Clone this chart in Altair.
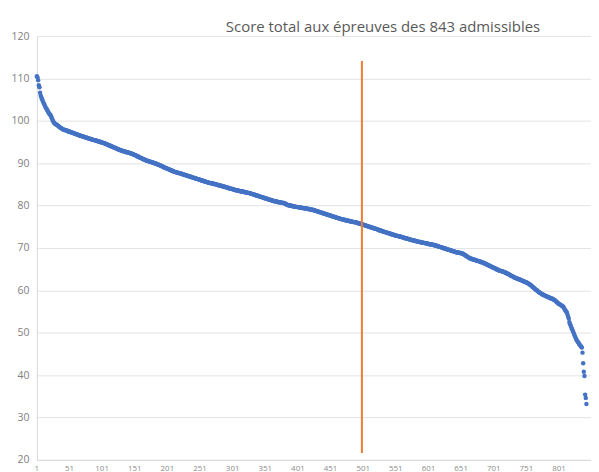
import altair as alt
import pandas as pd

# Scores of the 843 candidates, sorted in decreasing order
scores_1_200 = [
    110.5, 110.2, 109.6, 108.4, 107.9, 106.6, 105.9, 105.5, 105.1, 104.7,
    104.3, 104.0, 103.7, 103.3, 103.0, 102.8, 102.5, 102.2, 101.9, 101.7,
    101.5, 101.3, 101.0, 100.6, 100.2, 99.9, 99.6, 99.4, 99.3, 99.2,
    99.1, 99.0, 98.9, 98.8, 98.6, 98.5, 98.4, 98.3, 98.2, 98.1,
    98.0, 97.9, 97.9, 97.8, 97.8, 97.7, 97.7, 97.6, 97.5, 97.5,
    97.4, 97.4, 97.3, 97.3, 97.2, 97.2, 97.1, 97.0, 97.0, 96.9,
    96.9, 96.8, 96.8, 96.7, 96.6, 96.6, 96.5, 96.5, 96.4, 96.4,
    96.3, 96.3, 96.2, 96.2, 96.1, 96.1, 96.0, 96.0, 95.9, 95.9,
    95.8, 95.8, 95.7, 95.7, 95.6, 95.6, 95.5, 95.5, 95.4, 95.4,
    95.4, 95.3, 95.3, 95.2, 95.2, 95.1, 95.1, 95.0, 95.0, 94.9,
    94.9, 94.8, 94.8, 94.7, 94.7, 94.6, 94.5, 94.5, 94.4, 94.3,
    94.3, 94.2, 94.1, 94.1, 94.0, 93.9, 93.9, 93.8, 93.7, 93.7,
    93.6, 93.5, 93.5, 93.4, 93.3, 93.3, 93.2, 93.1, 93.1, 93.0,
    93.0, 92.9, 92.9, 92.8, 92.8, 92.7, 92.7, 92.6, 92.6, 92.6,
    92.5, 92.5, 92.4, 92.4, 92.3, 92.3, 92.2, 92.1, 92.1, 92.0,
    91.9, 91.9, 91.8, 91.7, 91.6, 91.6, 91.5, 91.4, 91.3, 91.3,
    91.2, 91.1, 91.0, 91.0, 90.9, 90.8, 90.8, 90.7, 90.6, 90.6,
    90.5, 90.5, 90.4, 90.4, 90.3, 90.3, 90.2, 90.2, 90.1, 90.1,
    90.0, 90.0, 89.9, 89.9, 89.8, 89.7, 89.7, 89.6, 89.5, 89.5,
    89.4, 89.3, 89.3, 89.2, 89.1, 89.0, 89.0, 88.9, 88.8, 88.8,
]
scores_201_400 = [
    88.7, 88.6, 88.6, 88.5, 88.4, 88.4, 88.3, 88.2, 88.2, 88.1,
    88.0, 88.0, 87.9, 87.9, 87.8, 87.8, 87.7, 87.7, 87.7, 87.6,
    87.6, 87.5, 87.5, 87.4, 87.4, 87.3, 87.3, 87.2, 87.2, 87.1,
    87.1, 87.0, 87.0, 86.9, 86.9, 86.8, 86.8, 86.7, 86.7, 86.6,
    86.6, 86.5, 86.5, 86.4, 86.4, 86.3, 86.3, 86.2, 86.2, 86.1,
    86.1, 86.0, 86.0, 85.9, 85.9, 85.8, 85.8, 85.7, 85.7, 85.6,
    85.6, 85.5, 85.5, 85.4, 85.4, 85.3, 85.3, 85.3, 85.2, 85.2,
    85.2, 85.1, 85.1, 85.1, 85.0, 85.0, 84.9, 84.9, 84.8, 84.8,
    84.8, 84.7, 84.7, 84.6, 84.6, 84.5, 84.5, 84.5, 84.4, 84.4,
    84.3, 84.3, 84.2, 84.2, 84.1, 84.1, 84.0, 84.0, 84.0, 83.9,
    83.9, 83.8, 83.8, 83.7, 83.7, 83.6, 83.6, 83.6, 83.5, 83.5,
    83.5, 83.4, 83.4, 83.4, 83.3, 83.3, 83.3, 83.2, 83.2, 83.2,
    83.1, 83.1, 83.1, 83.0, 83.0, 83.0, 82.9, 82.9, 82.8, 82.8,
    82.7, 82.7, 82.6, 82.6, 82.5, 82.5, 82.4, 82.4, 82.3, 82.3,
    82.2, 82.2, 82.1, 82.1, 82.0, 82.0, 81.9, 81.9, 81.8, 81.8,
    81.7, 81.7, 81.6, 81.6, 81.5, 81.5, 81.4, 81.4, 81.3, 81.3,
    81.2, 81.2, 81.1, 81.1, 81.0, 81.0, 81.0, 80.9, 80.9, 80.9,
    80.8, 80.8, 80.8, 80.8, 80.7, 80.7, 80.7, 80.6, 80.6, 80.6,
    80.5, 80.4, 80.3, 80.2, 80.2, 80.1, 80.1, 80.0, 80.0, 80.0,
    79.9, 79.9, 79.9, 79.8, 79.8, 79.8, 79.7, 79.7, 79.7, 79.7,
]
scores_401_600 = [
    79.6, 79.6, 79.6, 79.6, 79.5, 79.5, 79.5, 79.4, 79.4, 79.4,
    79.4, 79.3, 79.3, 79.3, 79.3, 79.2, 79.2, 79.2, 79.1, 79.1,
    79.1, 79.0, 79.0, 79.0, 78.9, 78.9, 78.8, 78.8, 78.7, 78.7,
    78.6, 78.6, 78.5, 78.5, 78.4, 78.4, 78.3, 78.3, 78.2, 78.2,
    78.1, 78.1, 78.0, 78.0, 77.9, 77.9, 77.8, 77.8, 77.7, 77.7,
    77.6, 77.6, 77.5, 77.5, 77.4, 77.4, 77.3, 77.3, 77.2, 77.2,
    77.1, 77.1, 77.0, 77.0, 76.9, 76.9, 76.8, 76.8, 76.8, 76.7,
    76.7, 76.6, 76.6, 76.6, 76.5, 76.5, 76.4, 76.4, 76.4, 76.3,
    76.3, 76.3, 76.2, 76.2, 76.2, 76.1, 76.1, 76.1, 76.0, 76.0,
    76.0, 75.9, 75.9, 75.8, 75.8, 75.7, 75.7, 75.6, 75.6, 75.5,
    75.5, 75.4, 75.4, 75.3, 75.3, 75.2, 75.2, 75.1, 75.1, 75.0,
    75.0, 74.9, 74.9, 74.8, 74.8, 74.7, 74.7, 74.6, 74.6, 74.5,
    74.5, 74.4, 74.4, 74.3, 74.2, 74.2, 74.1, 74.1, 74.0, 74.0,
    73.9, 73.9, 73.8, 73.8, 73.7, 73.7, 73.6, 73.6, 73.5, 73.5,
    73.4, 73.4, 73.3, 73.3, 73.2, 73.2, 73.1, 73.1, 73.0, 73.0,
    72.9, 72.9, 72.9, 72.8, 72.8, 72.7, 72.7, 72.7, 72.6, 72.6,
    72.5, 72.5, 72.4, 72.4, 72.3, 72.3, 72.3, 72.2, 72.2, 72.1,
    72.1, 72.0, 72.0, 71.9, 71.9, 71.9, 71.8, 71.8, 71.7, 71.7,
    71.7, 71.6, 71.6, 71.5, 71.5, 71.5, 71.4, 71.4, 71.4, 71.3,
    71.3, 71.3, 71.2, 71.2, 71.2, 71.1, 71.1, 71.1, 71.0, 71.0,
]
scores_601_843 = [
    71.0, 70.9, 70.9, 70.9, 70.8, 70.8, 70.8, 70.7, 70.7, 70.7,
    70.6, 70.6, 70.5, 70.5, 70.4, 70.4, 70.3, 70.3, 70.2, 70.2,
    70.1, 70.1, 70.0, 70.0, 69.9, 69.9, 69.8, 69.8, 69.7, 69.7,
    69.6, 69.6, 69.5, 69.5, 69.4, 69.4, 69.3, 69.3, 69.2, 69.2,
    69.1, 69.1, 69.0, 69.0, 69.0, 68.9, 68.9, 68.9, 68.8, 68.8,
    68.8, 68.7, 68.7, 68.6, 68.5, 68.4, 68.3, 68.2, 68.1, 68.0,
    67.9, 67.8, 67.7, 67.6, 67.5, 67.5, 67.4, 67.4, 67.3, 67.3,
    67.2, 67.2, 67.1, 67.1, 67.0, 67.0, 66.9, 66.9, 66.8, 66.8,
    66.7, 66.7, 66.6, 66.6, 66.5, 66.4, 66.4, 66.3, 66.2, 66.1,
    66.1, 66.0, 65.9, 65.8, 65.8, 65.7, 65.6, 65.5, 65.5, 65.4,
    65.3, 65.2, 65.2, 65.1, 65.0, 64.9, 64.9, 64.8, 64.7, 64.7,
    64.6, 64.6, 64.5, 64.5, 64.4, 64.4, 64.3, 64.2, 64.2, 64.1,
    64.0, 63.9, 63.9, 63.8, 63.7, 63.6, 63.5, 63.4, 63.4, 63.3,
    63.2, 63.1, 63.0, 63.0, 62.9, 62.8, 62.8, 62.7, 62.6, 62.6,
    62.5, 62.5, 62.4, 62.3, 62.3, 62.2, 62.1, 62.1, 62.0, 61.9,
    61.9, 61.8, 61.7, 61.6, 61.5, 61.4, 61.3, 61.2, 61.0, 60.9,
    60.8, 60.6, 60.5, 60.4, 60.2, 60.1, 60.0, 59.9, 59.7, 59.6,
    59.5, 59.4, 59.3, 59.2, 59.1, 59.0, 58.9, 58.9, 58.8, 58.7,
    58.6, 58.6, 58.5, 58.4, 58.4, 58.3, 58.2, 58.2, 58.1, 58.0,
    58.0, 57.9, 57.8, 57.7, 57.6, 57.5, 57.3, 57.2, 57.0, 56.9,
    56.8, 56.7, 56.6, 56.5, 56.4, 56.3, 56.2, 56.0, 55.7, 55.4,
    55.2, 55.0, 54.8, 54.3, 53.8, 53.3, 52.5, 52.0, 51.6, 51.2,
    50.9, 50.5, 50.1, 49.7, 49.3, 49.0, 48.6, 48.3, 48.0, 47.8,
    47.6, 47.3, 47.1, 46.9, 46.7, 46.5,
    45.3, 42.8, 40.8, 39.8, 35.4, 34.6, 33.2,
]

x_ticks = [1, 51, 101, 151, 201, 251, 301, 351, 401, 451, 501, 551, 601, 651, 701, 751, 801]
y_ticks = [20, 30, 40, 50, 60, 70, 80, 90, 100, 110, 120]
cutoff_rank = [499]
cutoff_low = [21.6]
cutoff_high = [114.1]
title_text = "Score total aux épreuves des 843 admissibles"

scores = scores_1_200 + scores_201_400 + scores_401_600 + scores_601_843
ranks = list(range(1, len(scores) + 1))
df = pd.DataFrame({"rang": ranks, "score": scores})
cut = pd.DataFrame({"rang": cutoff_rank, "score": cutoff_low, "haut": cutoff_high})
tick_df = pd.DataFrame({"rang": x_ticks, "label": [str(v) for v in x_ticks]})

x_scale = alt.Scale(domain=[1, 850], nice=False, zero=False)
x_enc = alt.X(
    "rang:Q",
    scale=x_scale,
    axis=alt.Axis(
        values=x_ticks, title=None, grid=False, ticks=False, labels=False,
        domainColor="#D9D9D9",
    ),
)
y_enc = alt.Y(
    "score:Q",
    scale=alt.Scale(domain=[20, 120], nice=False, zero=False),
    axis=alt.Axis(
        values=y_ticks, title=None, grid=True, gridColor="#E3E3E3", ticks=False,
        domainColor="#D9D9D9", labelColor="#808080", labelFontSize=10.5,
        labelPadding=8, labelFont="Open Sans",
    ),
)

points = alt.Chart(df).mark_circle(size=20, color="#4472C4", opacity=1).encode(
    x=x_enc, y=y_enc
)
rule = alt.Chart(cut).mark_rule(color="#ED7D31", strokeWidth=2).encode(
    x=x_enc, y=alt.Y("score:Q"), y2="haut:Q"
)
xlabels = alt.Chart(tick_df).mark_text(
    font="Open Sans", fontSize=8, color="#8C8C8C", baseline="top", align="center"
).encode(
    x=alt.X("rang:Q"), y=alt.value(431), text="label:N"
)

chart = alt.layer(points, rule, xlabels).properties(
    width=557,
    height=426,
    autosize=alt.AutoSizeParams(type="none"),
    padding={"left": 29, "top": 27, "right": 0, "bottom": 14},
    title=alt.TitleParams(
        title_text, anchor="start", dx=216, offset=-4, fontSize=15,
        font="Open Sans", fontWeight="normal", color="#595959",
    ),
).configure_view(stroke=None)

chart.save("out.html", embed_options={"renderer": "svg", "actions": False})
